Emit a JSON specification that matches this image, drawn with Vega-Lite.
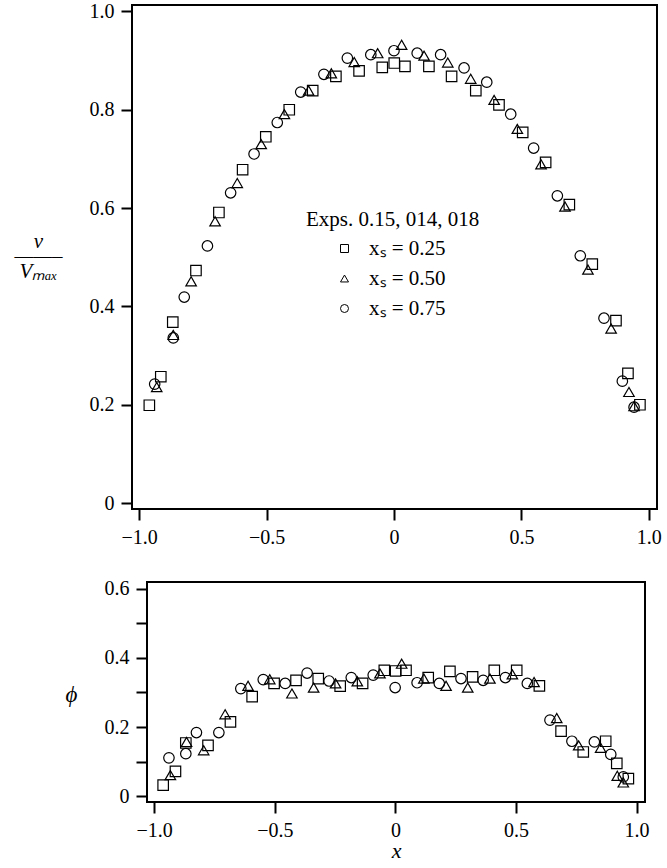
{
  "$schema": "https://vega.github.io/schema/vega-lite/v6.json",
  "padding": {"left": 13, "top": 0, "right": 5, "bottom": 5},
  "background": "white",
  "datasets": {
    "vel": [
      {"s":"0.25","x":-0.960,"y":0.199},{"s":"0.25","x":-0.915,"y":0.257},{"s":"0.25","x":-0.868,"y":0.368},{"s":"0.25","x":-0.777,"y":0.473},{"s":"0.25","x":-0.687,"y":0.591},
      {"s":"0.25","x":-0.594,"y":0.678},{"s":"0.25","x":-0.503,"y":0.745},{"s":"0.25","x":-0.411,"y":0.800},{"s":"0.25","x":-0.319,"y":0.839},{"s":"0.25","x":-0.228,"y":0.868},
      {"s":"0.25","x":-0.137,"y":0.879},{"s":"0.25","x":-0.046,"y":0.886},{"s":"0.25","x":0.001,"y":0.895},{"s":"0.25","x":0.043,"y":0.888},{"s":"0.25","x":0.137,"y":0.888},
      {"s":"0.25","x":0.226,"y":0.868},{"s":"0.25","x":0.321,"y":0.839},{"s":"0.25","x":0.412,"y":0.810},{"s":"0.25","x":0.505,"y":0.754},{"s":"0.25","x":0.595,"y":0.693},
      {"s":"0.25","x":0.688,"y":0.607},{"s":"0.25","x":0.778,"y":0.486},{"s":"0.25","x":0.871,"y":0.371},{"s":"0.25","x":0.918,"y":0.264},{"s":"0.25","x":0.965,"y":0.200},
      {"s":"0.50","x":-0.931,"y":0.236},{"s":"0.50","x":-0.866,"y":0.342},{"s":"0.50","x":-0.796,"y":0.451},{"s":"0.50","x":-0.702,"y":0.573},{"s":"0.50","x":-0.615,"y":0.651},
      {"s":"0.50","x":-0.521,"y":0.730},{"s":"0.50","x":-0.430,"y":0.791},{"s":"0.50","x":-0.335,"y":0.839},{"s":"0.50","x":-0.246,"y":0.874},{"s":"0.50","x":-0.156,"y":0.897},
      {"s":"0.50","x":-0.064,"y":0.915},{"s":"0.50","x":0.030,"y":0.932},{"s":"0.50","x":0.118,"y":0.910},{"s":"0.50","x":0.211,"y":0.896},{"s":"0.50","x":0.301,"y":0.863},
      {"s":"0.50","x":0.393,"y":0.820},{"s":"0.50","x":0.484,"y":0.761},{"s":"0.50","x":0.577,"y":0.689},{"s":"0.50","x":0.671,"y":0.603},{"s":"0.50","x":0.761,"y":0.475},
      {"s":"0.50","x":0.852,"y":0.355},{"s":"0.50","x":0.922,"y":0.226},{"s":"0.50","x":0.942,"y":0.197},
      {"s":"0.75","x":-0.939,"y":0.242},{"s":"0.75","x":-0.866,"y":0.336},{"s":"0.75","x":-0.823,"y":0.419},{"s":"0.75","x":-0.732,"y":0.523},{"s":"0.75","x":-0.641,"y":0.631},
      {"s":"0.75","x":-0.549,"y":0.710},{"s":"0.75","x":-0.458,"y":0.774},{"s":"0.75","x":-0.366,"y":0.836},{"s":"0.75","x":-0.275,"y":0.872},{"s":"0.75","x":-0.183,"y":0.905},
      {"s":"0.75","x":-0.091,"y":0.912},{"s":"0.75","x":0.000,"y":0.920},{"s":"0.75","x":0.091,"y":0.915},{"s":"0.75","x":0.183,"y":0.912},{"s":"0.75","x":0.275,"y":0.885},
      {"s":"0.75","x":0.364,"y":0.856},{"s":"0.75","x":0.458,"y":0.791},{"s":"0.75","x":0.548,"y":0.722},{"s":"0.75","x":0.641,"y":0.625},{"s":"0.75","x":0.731,"y":0.503},
      {"s":"0.75","x":0.824,"y":0.376},{"s":"0.75","x":0.896,"y":0.248},{"s":"0.75","x":0.942,"y":0.195}
    ],
    "phi": [
      {"s":"0.25","x":-0.963,"y":0.032},{"s":"0.25","x":-0.912,"y":0.072},{"s":"0.25","x":-0.869,"y":0.154},{"s":"0.25","x":-0.777,"y":0.147},{"s":"0.25","x":-0.684,"y":0.215},
      {"s":"0.25","x":-0.594,"y":0.288},{"s":"0.25","x":-0.503,"y":0.326},{"s":"0.25","x":-0.412,"y":0.335},{"s":"0.25","x":-0.320,"y":0.340},{"s":"0.25","x":-0.229,"y":0.318},
      {"s":"0.25","x":-0.136,"y":0.326},{"s":"0.25","x":-0.046,"y":0.364},{"s":"0.25","x":0.001,"y":0.362},{"s":"0.25","x":0.044,"y":0.364},{"s":"0.25","x":0.136,"y":0.343},
      {"s":"0.25","x":0.226,"y":0.361},{"s":"0.25","x":0.320,"y":0.345},{"s":"0.25","x":0.410,"y":0.364},{"s":"0.25","x":0.503,"y":0.364},{"s":"0.25","x":0.597,"y":0.319},
      {"s":"0.25","x":0.687,"y":0.188},{"s":"0.25","x":0.779,"y":0.128},{"s":"0.25","x":0.872,"y":0.159},{"s":"0.25","x":0.918,"y":0.095},{"s":"0.25","x":0.966,"y":0.051},
      {"s":"0.50","x":-0.933,"y":0.061},{"s":"0.50","x":-0.866,"y":0.157},{"s":"0.50","x":-0.795,"y":0.133},{"s":"0.50","x":-0.706,"y":0.237},{"s":"0.50","x":-0.611,"y":0.319},
      {"s":"0.50","x":-0.521,"y":0.338},{"s":"0.50","x":-0.429,"y":0.297},{"s":"0.50","x":-0.339,"y":0.314},{"s":"0.50","x":-0.248,"y":0.326},{"s":"0.50","x":-0.158,"y":0.332},
      {"s":"0.50","x":-0.064,"y":0.355},{"s":"0.50","x":0.026,"y":0.383},{"s":"0.50","x":0.118,"y":0.340},{"s":"0.50","x":0.210,"y":0.319},{"s":"0.50","x":0.300,"y":0.314},
      {"s":"0.50","x":0.392,"y":0.340},{"s":"0.50","x":0.485,"y":0.352},{"s":"0.50","x":0.575,"y":0.330},{"s":"0.50","x":0.669,"y":0.226},{"s":"0.50","x":0.760,"y":0.147},
      {"s":"0.50","x":0.851,"y":0.140},{"s":"0.50","x":0.920,"y":0.059},{"s":"0.50","x":0.945,"y":0.040},
      {"s":"0.75","x":-0.939,"y":0.111},{"s":"0.75","x":-0.869,"y":0.123},{"s":"0.75","x":-0.825,"y":0.184},{"s":"0.75","x":-0.732,"y":0.184},{"s":"0.75","x":-0.641,"y":0.311},
      {"s":"0.75","x":-0.548,"y":0.337},{"s":"0.75","x":-0.457,"y":0.326},{"s":"0.75","x":-0.366,"y":0.356},{"s":"0.75","x":-0.275,"y":0.333},{"s":"0.75","x":-0.183,"y":0.343},
      {"s":"0.75","x":-0.092,"y":0.350},{"s":"0.75","x":-0.001,"y":0.314},{"s":"0.75","x":0.090,"y":0.328},{"s":"0.75","x":0.182,"y":0.326},{"s":"0.75","x":0.272,"y":0.340},
      {"s":"0.75","x":0.364,"y":0.335},{"s":"0.75","x":0.456,"y":0.343},{"s":"0.75","x":0.547,"y":0.326},{"s":"0.75","x":0.641,"y":0.220},{"s":"0.75","x":0.732,"y":0.159},
      {"s":"0.75","x":0.825,"y":0.157},{"s":"0.75","x":0.893,"y":0.121},{"s":"0.75","x":0.945,"y":0.056}
    ]
  },
  "spacing": 29,
  "vconcat": [
    {
      "width": 525,
      "height": 504,
      "data": {"name": "vel"},
      "mark": {"type": "point", "filled": false, "color": "black", "strokeWidth": 1.2, "size": 110, "opacity": 1},
      "encoding": {
        "x": {"field": "x", "type": "quantitative",
          "scale": {"domain": [-1.028, 1.032], "nice": false, "zero": false},
          "axis": {"title": null, "values": [-1, -0.5, 0, 0.5, 1],
            "labelExpr": "datum.value == 0 ? '0' : format(datum.value, '.1f')"}},
        "y": {"field": "y", "type": "quantitative",
          "scale": {"domain": [-0.012, 1.013], "nice": false, "zero": false},
          "axis": {"values": [0, 0.2, 0.4, 0.6, 0.8, 1.0],
            "labelExpr": "datum.value == 0 ? '0' : format(datum.value, '.1f')",
            "title": ["v", "——–", "Vₘₐₓ"], "titleAngle": 0, "titleAlign": "center", "titleBaseline": "middle",
            "titleX": -94, "titleY": 236, "titleFontStyle": "italic", "titleFontSize": 21, "titleLineHeight": 15}},
        "shape": {"field": "s", "type": "nominal",
          "scale": {"domain": ["0.25", "0.50", "0.75"], "range": ["square", "triangle-up", "circle"]},
          "legend": {"orient": "none", "legendX": 174, "legendY": 204,
            "title": "Exps. 0.15, 014, 018",
            "labelExpr": "'xₛ = ' + datum.label"}}
      }
    },
    {
      "hconcat": [
        {
          "width": 15,
          "height": 220,
          "data": {"values": [{"a": 1}]},
          "mark": {"type": "point", "opacity": 0},
          "encoding": {},
          "view": {"stroke": null}
        },
        {
          "width": 498,
          "height": 220,
          "data": {"name": "phi"},
          "mark": {"type": "point", "filled": false, "color": "black", "strokeWidth": 1.2, "size": 110, "opacity": 1},
          "encoding": {
            "x": {"field": "x", "type": "quantitative",
              "scale": {"domain": [-1.03, 1.035], "nice": false, "zero": false},
              "axis": {"title": "x", "titleFontStyle": "italic", "titleFontSize": 22, "titlePadding": 0,
                "values": [-1, -0.5, 0, 0.5, 1],
                "labelExpr": "datum.value == 0 ? '0' : format(datum.value, '.1f')"}},
            "y": {"field": "y", "type": "quantitative",
              "scale": {"domain": [-0.0165, 0.619], "nice": false, "zero": false},
              "axis": {"values": [0, 0.1, 0.2, 0.3, 0.4, 0.5, 0.6],
                "labelExpr": "datum.value == 0 ? '0' : (round(datum.value * 10) % 2 == 0 ? format(datum.value, '.1f') : '')",
                "title": "ϕ", "titleAngle": 0, "titleAlign": "center", "titleBaseline": "middle",
                "titleX": -76, "titleY": 112, "titleFontStyle": "italic", "titleFontSize": 23}},
            "shape": {"field": "s", "type": "nominal",
              "scale": {"domain": ["0.25", "0.50", "0.75"], "range": ["square", "triangle-up", "circle"]},
              "legend": null}
          }
        }
      ],
      "spacing": 0,
      "bounds": "flush"
    }
  ],
  "resolve": {"scale": {"shape": "independent"}},
  "config": {
    "font": "Liberation Serif",
    "view": {"stroke": "black", "strokeWidth": 2},
    "axis": {"domain": false, "grid": false, "ticks": true, "tickColor": "black", "tickWidth": 2, "tickSize": 11,
      "labelFont": "Liberation Serif", "labelFontSize": 20, "labelColor": "black", "labelPadding": 7,
      "labelFlush": false, "labelOverlap": false,
      "titleFont": "Liberation Serif", "titleFontWeight": "normal", "titleColor": "black"},
    "legend": {"titleFont": "Liberation Serif", "titleFontSize": 21, "titleFontWeight": "normal", "titleColor": "black",
      "labelFont": "Liberation Serif", "labelFontSize": 21, "labelColor": "black",
      "symbolSize": 64, "symbolStrokeWidth": 1, "symbolStrokeColor": "black", "symbolFillColor": "transparent",
      "symbolOffset": 28, "labelOffset": 14, "rowPadding": 8, "titlePadding": 8}
  }
}
